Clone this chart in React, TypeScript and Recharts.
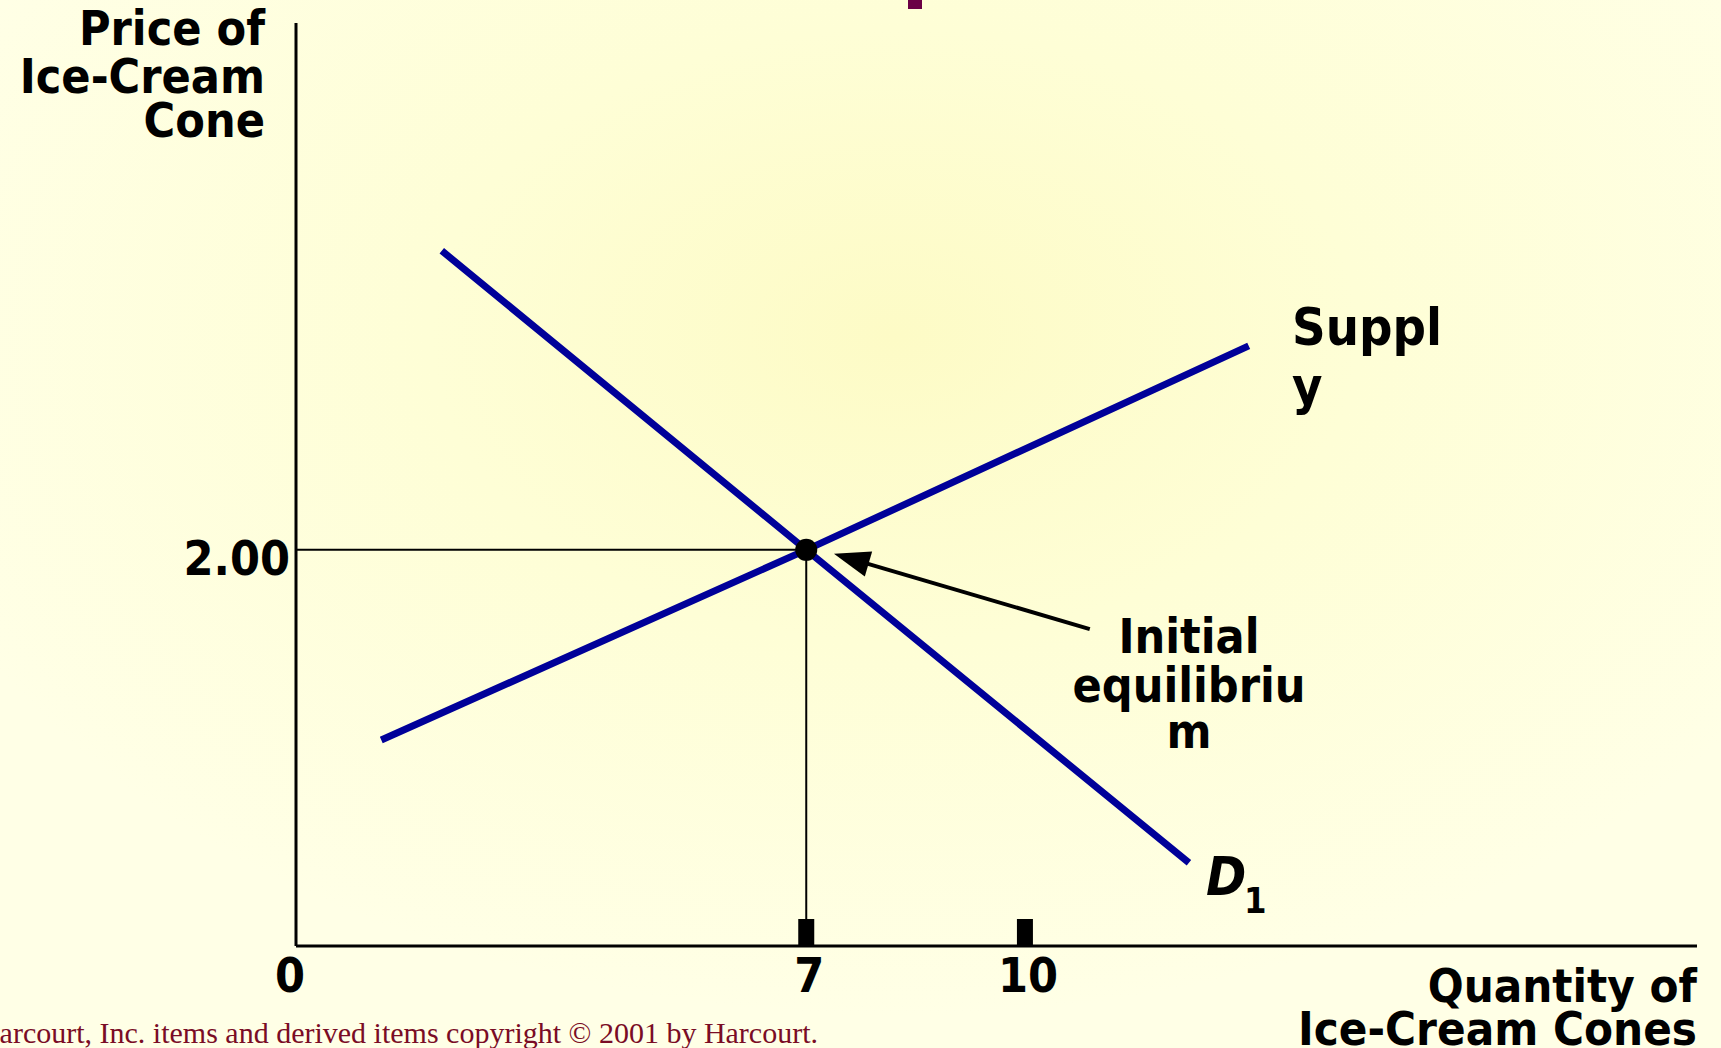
import React from 'react'
import {
  LineChart,
  Line,
  XAxis,
  YAxis,
  ReferenceLine,
  ReferenceDot,
} from 'recharts'

// Quantities and prices
const demandQty = [2, 7, 12.25]
const demandPrice = [3.51, 2, 0.42]
const supplyQty = [1.17, 7, 13.07]
const supplyPrice = [1.04, 2, 3.03]

const xTicks = [0, 7, 10]
const yTicks = [2]
const yTickLabels: Record<number, string> = { 2: '2.00' }

const eqQty = 7
const eqPrice = 2

// annotation arrow: tail near the label, head at the equilibrium
const arrowFrom = [10.89, 1.6]
const arrowTo = [7.38, 1.98]

const demand = demandQty.map((q, i) => ({ q, p: demandPrice[i] }))
const supply = supplyQty.map((q, i) => ({ q, p: supplyPrice[i] }))

const W = 1721
const H = 1048
const SANS = "'DejaVu Sans Condensed', 'DejaVu Sans', sans-serif"
const BLUE = '#000099'

function XTick(props: any) {
  const { x, y, payload } = props
  const v = payload.value
  return (
    <g>
      {v !== 0 && <rect x={x - 8} y={y - 27} width={16} height={27} fill="#000" />}
      <text
        x={v === 0 ? x - 6 : x + 3}
        y={y + 46}
        textAnchor="middle"
        fontFamily={SANS}
        fontWeight="bold"
        fontSize={48}
        fill="#000"
      >
        {v}
      </text>
    </g>
  )
}

function YTick(props: any) {
  const { x, y, payload } = props
  return (
    <text
      x={x - 6}
      y={y + 25}
      textAnchor="end"
      fontFamily={SANS}
      fontWeight="bold"
      fontSize={48}
      fill="#000"
    >
      {yTickLabels[payload.value] ?? payload.value}
    </text>
  )
}

function Arrow(props: any) {
  const { x1, y1, x2, y2 } = props
  const dx = x2 - x1
  const dy = y2 - y1
  const len = Math.sqrt(dx * dx + dy * dy)
  const ux = dx / len
  const uy = dy / len
  const headLen = 36
  const headW = 13
  const bx = x2 - ux * headLen
  const by = y2 - uy * headLen
  return (
    <g>
      <line x1={x1} y1={y1} x2={bx + ux * 4} y2={by + uy * 4} stroke="#000" strokeWidth={4} />
      <polygon
        points={`${x2},${y2} ${bx - uy * headW},${by + ux * headW} ${bx + uy * headW},${by - ux * headW}`}
        fill="#000"
      />
    </g>
  )
}

const textStyle = {
  fontFamily: SANS,
  fontWeight: 'bold' as const,
  fill: '#000',
}

export default function App() {
  return (
    <div
      style={{
        position: 'absolute',
        left: 0,
        top: 0,
        width: W,
        height: H,
        overflow: 'hidden',
        background:
          'radial-gradient(ellipse 60% 65% at 52% 32%, #fdfbc6 0%, #fefed6 45%, #ffffe6 100%)',
      }}
    >
      <div
        style={{
          position: 'absolute',
          left: 908,
          top: 0,
          width: 14,
          height: 9,
          background: '#6b0045',
        }}
      />
      <LineChart
        width={W}
        height={H}
        margin={{ top: 23, right: 24, bottom: 101, left: 295 }}
      >
        <XAxis
          type="number"
          dataKey="q"
          domain={[0, 19.22]}
          allowDataOverflow
          ticks={xTicks}
          height={1}
          tickSize={0}
          tickMargin={0}
          tickLine={false}
          axisLine={{ stroke: '#000', strokeWidth: 3 }}
          tick={<XTick />}
          interval={0}
        />
        <YAxis
          type="number"
          dataKey="p"
          domain={[0, 4.66]}
          allowDataOverflow
          ticks={yTicks}
          width={1}
          tickSize={0}
          tickMargin={0}
          tickLine={false}
          axisLine={{ stroke: '#000', strokeWidth: 3 }}
          tick={<YTick />}
          interval={0}
        />
        <ReferenceLine
          segment={[
            { x: 0, y: eqPrice },
            { x: eqQty, y: eqPrice },
          ]}
          stroke="#000"
          strokeWidth={2}
        />
        <ReferenceLine
          segment={[
            { x: eqQty, y: 0 },
            { x: eqQty, y: eqPrice },
          ]}
          stroke="#000"
          strokeWidth={2}
        />
        <Line
          data={demand}
          dataKey="p"
          stroke={BLUE}
          strokeWidth={7}
          dot={false}
          activeDot={false}
          isAnimationActive={false}
        />
        <Line
          data={supply}
          dataKey="p"
          stroke={BLUE}
          strokeWidth={7}
          dot={false}
          activeDot={false}
          isAnimationActive={false}
        />
        <ReferenceDot x={eqQty} y={eqPrice} r={11} fill="#000" stroke="none" />
        <ReferenceLine
          segment={[
            { x: arrowFrom[0], y: arrowFrom[1] },
            { x: arrowTo[0], y: arrowTo[1] },
          ]}
          shape={<Arrow />}
        />

        <text {...textStyle} fontSize={48} textAnchor="end">
          <tspan x={265} y={45}>Price of</tspan>
          <tspan x={265} y={93}>Ice-Cream</tspan>
          <tspan x={265} y={137}>Cone</tspan>
        </text>
        <text {...textStyle} fontSize={47} textAnchor="end">
          <tspan x={1697} y={1002}>Quantity of</tspan>
          <tspan x={1697} y={1045}>Ice-Cream Cones</tspan>
        </text>
        <text {...textStyle} fontSize={52}>
          <tspan x={1292} y={345}>Suppl</tspan>
          <tspan x={1292} y={404}>y</tspan>
        </text>
        <text {...textStyle} fontSize={48} textAnchor="middle">
          <tspan x={1189} y={653}>Initial</tspan>
          <tspan x={1189} y={702}>equilibriu</tspan>
          <tspan x={1189} y={748}>m</tspan>
        </text>
        <text {...textStyle} fontSize={54} fontStyle="italic" x={1206} y={895}>
          D
        </text>
        <text {...textStyle} fontSize={36} x={1244} y={913}>
          1
        </text>
        <text
          x={818}
          y={1043}
          textAnchor="end"
          fontFamily="'Liberation Serif', 'Times New Roman', serif"
          fontSize={30}
          fill="#7a0c25"
        >
          © Harcourt, Inc. items and derived items copyright © 2001 by Harcourt.
        </text>
      </LineChart>
    </div>
  )
}
